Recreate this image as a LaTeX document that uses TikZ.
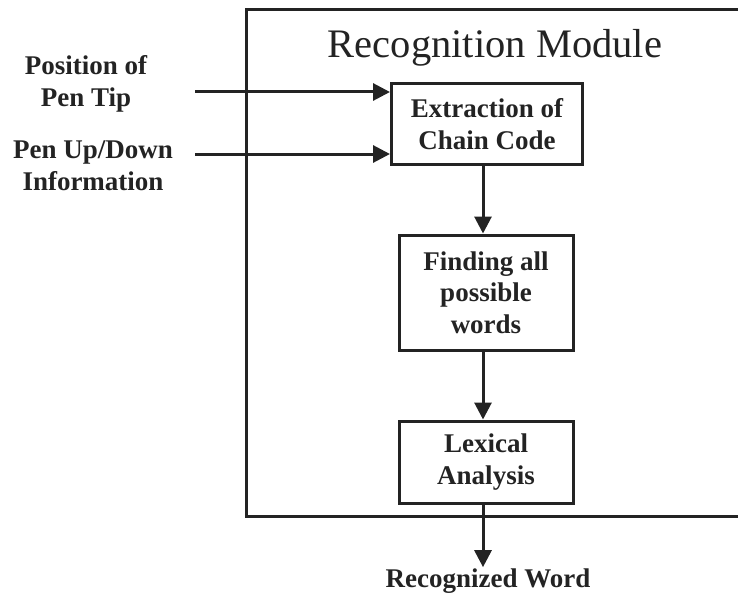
\documentclass[tikz,border=0pt]{standalone}
\usepackage{fontspec}
\setmainfont{Liberation Serif}
\usetikzlibrary{arrows.meta}
\definecolor{ink}{RGB}{35,35,35}
\begin{document}
\begin{tikzpicture}[x=1pt,y=-1pt,
  line width=3pt, draw=ink,
  procbox/.style={draw=ink, line width=3pt, align=center, inner sep=0pt,
    font=\fontsize{27}{31.5}\selectfont\bfseries, text=ink},
  lbl/.style={align=center, inner sep=0pt, font=\fontsize{27}{32}\selectfont\bfseries, text=ink},
  flow/.style={-{Triangle[length=17pt,width=17pt]}, line width=3pt, draw=ink},
]
\useasboundingbox (0,0) rectangle (738,599);
% outer module (right side runs off the picture)
\coordinate (otr) at (750,10);
\coordinate (otl) at (246,10);
\coordinate (obl) at (246,516);
\coordinate (obr) at (750,516);
\draw[ink, line width=3pt] (otr) -- (otl) -- (obl) -- (obr);
\node[text=ink, inner sep=0pt, font=\fontsize{40.5}{44}\selectfont] (title) at (495,48) {Recognition Module};

\node[procbox, minimum width=191pt, minimum height=80pt] (ext) at (487,124) {Extraction of\\Chain Code};
\node[procbox, minimum width=174pt, minimum height=115pt] (find) at (486,292.5) {Finding all\\possible\\words};
\node[procbox, minimum width=174pt, minimum height=82pt] (lex) at (486,462) {Lexical\\Analysis};

\node[lbl] (pos) at (86,84) {Position of\\Pen Tip};
\node[lbl] (pud) at (93,166) {Pen Up/Down\\Information};
\node[lbl] (rw) at (488,581) {Recognized Word};

\coordinate (in1) at (195,92);
\coordinate (in2) at (195,154);
\draw[flow] (in1) -- (in1 -| ext.west);
\draw[flow] (in2) -- (in2 -| ext.west);

\draw[flow] (ext.south -| 483,0) -- (find.north -| 483,0);
\draw[flow] (find.south -| 483,0) -- (lex.north -| 483,0);
\draw[flow] (lex.south -| 483,0) -- (rw.north -| 483,0);
\end{tikzpicture}
\end{document}
